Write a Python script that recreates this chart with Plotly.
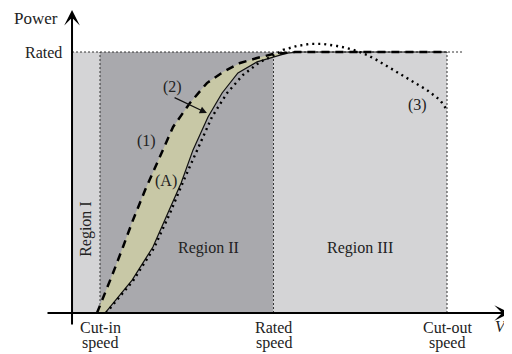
import plotly.graph_objects as go

# ---- data (wind speed in m/s-like units, power in per-unit of rated) ----
speed_marks = [4, 12, 20]                      # cut-in, rated, cut-out
tick_line1 = ["Cut-in", "Rated", "Cut-out"]
tick_line2 = ["speed", "speed", "speed"]
region_names = ["Region I", "Region II", "Region III"]
axis_origin = 2.71

# (1) dashed curve
v_dashed = [3.86, 4.14, 4.60, 5.06, 5.52, 6.08, 6.77, 7.37, 8.15, 8.93, 9.67,
            10.46, 11.24, 11.98, 12.99, 20.0]
p_dashed = [0.0, 0.061, 0.153, 0.253, 0.356, 0.471, 0.598, 0.713, 0.805, 0.881,
            0.923, 0.958, 0.977, 0.992, 1.0, 1.0]

# (2) solid curve
v_solid = [4.23, 5.48, 6.44, 7.14, 7.74, 8.29, 8.98, 9.63, 10.36, 11.24, 11.98,
           12.62, 13.22, 20.0]
p_solid = [0.0, 0.126, 0.253, 0.383, 0.498, 0.625, 0.751, 0.843, 0.920, 0.962,
           0.981, 0.996, 1.0, 1.0]

# (A)/(3) dotted curve
v_dotted = [4.28, 5.52, 6.49, 7.23, 7.87, 8.47, 9.16, 9.86, 10.59, 11.38, 12.07,
            12.44, 13.08, 13.68, 14.28, 14.93, 15.39, 15.85, 16.31, 16.77, 17.37,
            18.29, 19.08, 19.68, 20.0]
p_dotted = [0.0, 0.123, 0.249, 0.383, 0.510, 0.625, 0.751, 0.843, 0.912, 0.962,
            0.989, 1.008, 1.023, 1.031, 1.031, 1.023, 1.015, 1.004, 0.989, 0.969,
            0.939, 0.893, 0.854, 0.816, 0.778]

rated_power = 1.0

FONT = "Liberation Serif, Times New Roman, serif"
TXT = "#222222"

fig = go.Figure()

# shaded area (A) between dashed and solid
fig.add_trace(go.Scatter(
    x=v_dashed + v_solid[::-1], y=p_dashed + p_solid[::-1],
    fill="toself", fillcolor="#c8c8a6", line=dict(width=0),
    mode="lines", hoverinfo="skip", showlegend=False))

fig.add_trace(go.Scatter(x=v_solid, y=p_solid, mode="lines",
                         line=dict(color="#111111", width=1.2), showlegend=False))
fig.add_trace(go.Scatter(x=v_dashed, y=p_dashed, mode="lines",
                         line=dict(color="#000000", width=2.5, dash="8px,6px"),
                         showlegend=False))
fig.add_trace(go.Scatter(x=v_dotted, y=p_dotted, mode="lines",
                         line=dict(color="#000000", width=2.4, dash="2px,4px"),
                         showlegend=False))

# regions
bounds = [axis_origin] + speed_marks
fills = ["#d4d4d6", "#a9a9ad", "#d4d4d6"]
shapes = []
for i in range(3):
    shapes.append(dict(type="rect", xref="x", yref="y", x0=bounds[i], x1=bounds[i + 1],
                       y0=0, y1=rated_power, fillcolor=fills[i],
                       line=dict(width=0), layer="below"))
for s in speed_marks:
    shapes.append(dict(type="line", xref="x", yref="y", x0=s, x1=s, y0=0, y1=rated_power,
                       line=dict(color="#333333", width=1, dash="2px,2px"), layer="below"))
shapes.append(dict(type="line", xref="x", yref="y", x0=axis_origin, x1=20.75,
                   y0=rated_power, y1=rated_power,
                   line=dict(color="#333333", width=1, dash="2px,2px"), layer="below"))

annotations = []
# axes with arrows
annotations.append(dict(x=22.9, y=0, ax=1.51, ay=0, xref="x", yref="y",
                        axref="x", ayref="y", text="", showarrow=True,
                        arrowhead=3, arrowwidth=2, arrowsize=1.3,
                        arrowcolor="#000000", standoff=0, startstandoff=0))
annotations.append(dict(x=axis_origin, y=1.161, ax=axis_origin, ay=-0.05, xref="x",
                        yref="y", axref="x", ayref="y", text="", showarrow=True,
                        arrowhead=3, arrowwidth=2, arrowsize=1.3,
                        arrowcolor="#000000", standoff=0, startstandoff=0))
# arrow for (2)
annotations.append(dict(x=8.93, y=0.766, ax=7.37, ay=0.828, xref="x", yref="y",
                        axref="x", ayref="y", text="", showarrow=True,
                        arrowhead=2, arrowwidth=1.2, arrowsize=1.2,
                        arrowcolor="#111111", standoff=0))

def txt(x, y, t, size=15, **kw):
    d = dict(x=x, y=y, xref="x", yref="y", text=t, showarrow=False,
             font=dict(family=FONT, size=size, color=TXT))
    d.update(kw)
    annotations.append(d)

for s, l1, l2 in zip(speed_marks, tick_line1, tick_line2):
    txt(s, -0.057, l1, size=16)
    txt(s, -0.115, l2, size=16)

txt(22.12, -0.057, "<i>V</i><sub><i>W</i></sub>", size=16, xanchor="left")
txt(2.34, 1.0, "Rated", size=16, xanchor="right")
txt(1.05, 1.128, "Power", size=17)

txt(3.35, 0.322, region_names[0], size=16, textangle=-90)
txt(9.0, 0.249, region_names[1], size=16)
txt(16.0, 0.249, region_names[2], size=16)

txt(6.15, 0.659, "(1)", size=16)
txt(7.04, 0.506, "(A)", size=16)
txt(7.32, 0.866, "(2)", size=16)
txt(18.66, 0.797, "(3)", size=16)

# the page body has an 8px margin, so the figure is 504x346 and starts at (8, 8)
fig.update_layout(
    width=504, height=346, autosize=False,
    margin=dict(l=0, r=0, t=0, b=0, pad=0),
    paper_bgcolor="white", plot_bgcolor="white",
    xaxis=dict(range=[-0.242, 22.997], visible=False, fixedrange=True),
    yaxis=dict(range=[-0.157, 1.1686], visible=False, fixedrange=True),
    shapes=shapes, annotations=annotations, showlegend=False)

fig.write_html("out.html")
